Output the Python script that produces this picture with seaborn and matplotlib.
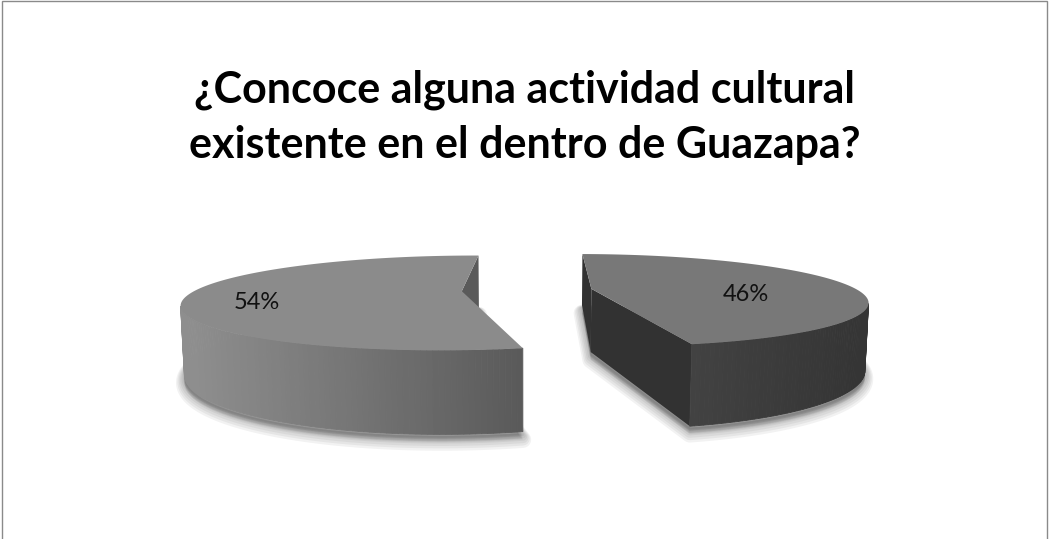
import numpy as np
import matplotlib
matplotlib.use('Agg')
import matplotlib.pyplot as plt
import seaborn as sns
from matplotlib.patches import Rectangle

# Datos de la encuesta
categorias = ['Sí', 'No']
valores = [54, 46]
etiquetas = ['54%', '46%']
titulo = ['¿Concoce alguna actividad cultural', 'existente en el dentro de Guazapa?']

sns.set_theme(style='white')
plt.rcParams['font.family'] = ['Lato', 'DejaVu Sans']

# colores (tapa, pared izquierda, pared derecha, caras radiales)
tapas = ['#8b8b8b', '#787878']
paredes = [('#8e8e8e', '#5a5a5a'), ('#424242', '#353535')]
radiales = ['#5a5a5a', '#323232']

# geometria del pastel 3D
cx, cy = 527, 290
f = 266
D = 4.0
phi = np.radians(9.5)
H = 0.245
explode = 0.245
start = -76.6
r_etiqueta = [0.75, 0.6]

cp, sp = np.cos(phi), np.sin(phi)
cam = np.array([0, -D * cp, D * sp])


def proj(x, y, z):
    d = D + y * cp - z * sp
    u = y * sp + z * cp
    return cx + f * x * D / d, cy - f * u * D / d


def visible(n, p):
    return np.dot(n, cam - p) > 0


fig = plt.figure(figsize=(10.5, 5.39), dpi=100)
ax = fig.add_axes([0, 0, 1, 1])
ax.set_xlim(0, 1050)
ax.set_ylim(539, 0)
ax.axis('off')

fracs = np.array(valores) / sum(valores)
bounds = start - 360 * np.concatenate([[0], np.cumsum(fracs)])

for i in range(len(valores)):
    t_hi = np.radians(bounds[i])
    t_lo = np.radians(bounds[i + 1])
    mid = (t_hi + t_lo) / 2
    ox, oy = explode * np.cos(mid), explode * np.sin(mid)
    t = np.linspace(t_lo, t_hi, 200)

    # sombra suave
    bx, by = proj(ox + np.cos(t), oy + np.sin(t), -H)
    vx, vy = proj(ox, oy, -H)
    sx = np.concatenate([[vx], bx])
    sy = np.concatenate([[vy], by])
    for k in range(6):
        ax.fill(sx, sy + 3 + k, color='black', alpha=0.05, lw=2 + 2 * k,
                ec='black', joinstyle='round', zorder=1)

    # caras radiales
    for a, n in [(t_lo, np.array([np.sin(t_lo), -np.cos(t_lo), 0])),
                 (t_hi, np.array([-np.sin(t_hi), np.cos(t_hi), 0]))]:
        p = np.array([ox + 0.5 * np.cos(a), oy + 0.5 * np.sin(a), -H / 2])
        if visible(n, p):
            xs = [ox, ox + np.cos(a), ox + np.cos(a), ox]
            ys = [oy, oy + np.sin(a), oy + np.sin(a), oy]
            zs = [0, 0, -H, -H]
            px, py = proj(np.array(xs), np.array(ys), np.array(zs))
            ax.fill(px, py, color=radiales[i], lw=0, zorder=2)

    # pared exterior con degradado
    grad = sns.blend_palette(list(paredes[i]), 200)
    if i == 0:
        xmin = proj(ox - 1, oy, 0)[0]
        xmax = proj(ox + np.cos(t_hi), oy + np.sin(t_hi), 0)[0]
    else:
        xmin = proj(ox + np.cos(t_lo), oy + np.sin(t_lo), 0)[0]
        xmax = proj(ox + 1, oy, 0)[0]
    for j in range(len(t) - 1):
        tm = (t[j] + t[j + 1]) / 2
        n = np.array([np.cos(tm), np.sin(tm), 0])
        p = np.array([ox + np.cos(tm), oy + np.sin(tm), -H / 2])
        if not visible(n, p):
            continue
        ta = np.array([t[j], t[j + 1], t[j + 1], t[j]])
        za = np.array([0, 0, -H, -H])
        px, py = proj(ox + np.cos(ta), oy + np.sin(ta), za)
        k = int(np.clip((px.mean() - xmin) / (xmax - xmin), 0, 0.999) * 200)
        ax.fill(px, py, color=grad[k], lw=0.6, ec=grad[k], zorder=3)

    # tapa superior
    tx, ty = proj(ox + np.cos(t), oy + np.sin(t), 0 * t)
    vx, vy = proj(ox, oy, 0)
    ax.fill(np.concatenate([[vx], tx]), np.concatenate([[vy], ty]),
            color=tapas[i], lw=0, zorder=4)

    # etiqueta de porcentaje
    r = r_etiqueta[i]
    lx, ly = proj(ox + r * np.cos(mid), oy + r * np.sin(mid), 0)
    ax.text(lx, ly + 8, etiquetas[i], ha='center', va='center', fontsize=17,
            color='#111111', zorder=5)

# titulo en dos lineas
for linea, yb in zip(titulo, [103, 158]):
    ax.text(525, yb, linea, ha='center', va='baseline', fontsize=31,
            fontweight='bold', color='black')

fig.patches.append(Rectangle((0.002, -0.01), 0.995, 1.008, transform=fig.transFigure,
                             fill=False, ec='#8a8a8a', lw=1))

fig.savefig('out.png', dpi=100)
